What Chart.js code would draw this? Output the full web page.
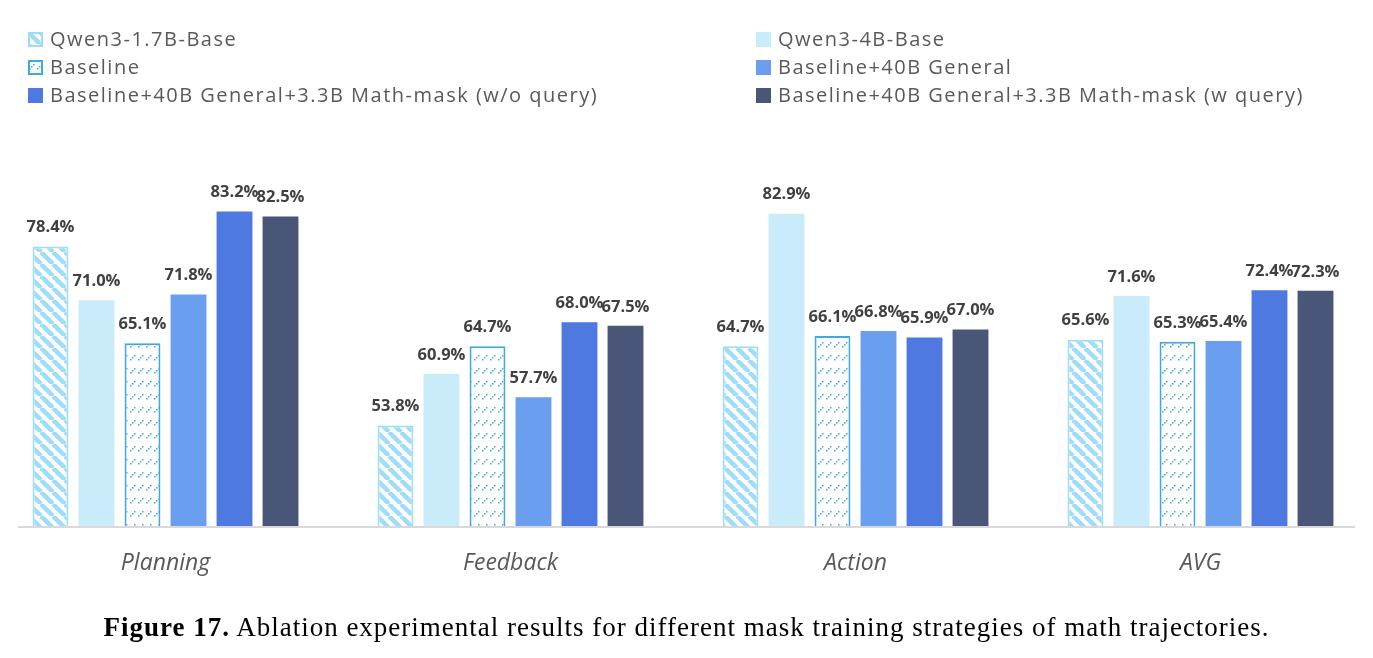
<!DOCTYPE html>
<html>
<head>
<meta charset="utf-8">
<script src="https://cdn.jsdelivr.net/npm/chart.js@4.4.1/dist/chart.umd.min.js"></script>
<style>
  html, body { margin: 0; padding: 0; background: #fff; width: 1373px; height: 658px; overflow: hidden; position: relative; }
  #wrap { position: absolute; left: -7px; top: 0; width: 1380px; height: 658px; }
  .leg { position: absolute; font-family: "Open Sans", sans-serif; font-size: 20px; letter-spacing: 1.5px; color: #595959; white-space: nowrap; line-height: 24px; }
  .leg canvas { position: absolute; left: 0; top: 5px; }
  .leg span { position: absolute; left: 22px; top: 0; }
  #caption { position: absolute; left: 0; width: 1373px; top: 612px; line-height: 30px; text-align: center; font-family: "Liberation Serif", serif; font-size: 27px; letter-spacing: 1.0px; color: #000; white-space: nowrap; }
</style>
</head>
<body>
<div id="wrap"><canvas id="c" width="1380" height="658"></canvas></div>
<div id="legend"></div>
<div id="caption"><b>Figure 17.</b> Ablation experimental results for different mask training strategies of math trajectories.</div>
<script>
const categories = ['Planning', 'Feedback', 'Action', 'AVG'];
const seriesNames = [
  'Qwen3-1.7B-Base',
  'Qwen3-4B-Base',
  'Baseline',
  'Baseline+40B General',
  'Baseline+40B General+3.3B Math-mask (w/o query)',
  'Baseline+40B General+3.3B Math-mask (w query)'
];
const qwen17 = [78.4, 53.8, 64.7, 65.6];
const qwen4 = [71.0, 60.9, 82.9, 71.6];
const baseline = [65.1, 64.7, 66.1, 65.3];
const general40 = [71.8, 57.7, 66.8, 65.4];
const maskNoQuery = [83.2, 68.0, 65.9, 72.4];
const maskQuery = [82.5, 67.5, 67.0, 72.3];
const yMin = 40, yMax = 90;

function stripePattern() {
  const s = 12;
  const c = document.createElement('canvas'); c.width = s; c.height = s;
  const g = c.getContext('2d');
  g.fillStyle = '#ffffff'; g.fillRect(0, 0, s, s);
  g.strokeStyle = '#9fdcf6'; g.lineWidth = 4.5;
  for (let k = -1; k <= 1; k++) {
    g.beginPath(); g.moveTo(k * s, 0); g.lineTo(k * s + s, s); g.stroke();
  }
  return g.createPattern(c, 'repeat');
}
function dotPattern() {
  const w = 8, h = 13;
  const c = document.createElement('canvas'); c.width = w; c.height = h;
  const g = c.getContext('2d');
  g.fillStyle = '#ffffff'; g.fillRect(0, 0, w, h);
  g.fillStyle = '#3fa9e2';
  g.fillRect(1, 8, 1.5, 1.5);
  g.fillRect(3, 6, 1.5, 1.5);
  g.fillRect(5, 4, 1.5, 1.5);
  return g.createPattern(c, 'repeat');
}

const fills = [stripePattern(), '#c9ebfa', dotPattern(), '#6a9fef', '#4e79e0', '#4a5678'];
const borders = ['#9fdcf6', '#c9ebfa', '#3fa9e2', '#6a9fef', '#4e79e0', '#4a5678'];
const borderW = [2, 0, 2, 0, 0, 0];
const values = [qwen17, qwen4, baseline, general40, maskNoQuery, maskQuery];

// Legend (HTML)
const legPos = [[28, 27], [756, 27], [28, 55], [756, 55], [28, 83], [756, 83]];
const legEl = document.getElementById('legend');
seriesNames.forEach((name, i) => {
  const d = document.createElement('div');
  d.className = 'leg';
  d.style.left = legPos[i][0] + 'px';
  d.style.top = legPos[i][1] + 'px';
  const sw = document.createElement('canvas'); sw.width = 15; sw.height = 15;
  const g = sw.getContext('2d');
  g.fillStyle = fills[i]; g.fillRect(0, 0, 15, 15);
  if (borderW[i]) { g.strokeStyle = borders[i]; g.lineWidth = 2; g.strokeRect(1, 1, 13, 13); }
  const sp = document.createElement('span'); sp.textContent = name;
  d.appendChild(sw); d.appendChild(sp);
  legEl.appendChild(d);
});

const barLabels = {
  id: 'barLabels',
  beforeDatasetsDraw(chart) {
    const ctx = chart.ctx; const y = chart.scales.y.getPixelForValue(yMin);
    ctx.save();
    ctx.strokeStyle = '#d9d9d9'; ctx.lineWidth = 2;
    ctx.beginPath(); ctx.moveTo(25, y + 1); ctx.lineTo(1362, y + 1); ctx.stroke();
    ctx.restore();
  },
  afterDatasetsDraw(chart) {
    const ctx = chart.ctx;
    ctx.save();
    ctx.font = 'bold 16.5px "Open Sans", sans-serif';
    ctx.fillStyle = '#404040';
    ctx.textAlign = 'center'; ctx.textBaseline = 'middle';
    chart.data.datasets.forEach((ds, di) => {
      chart.getDatasetMeta(di).data.forEach((bar, j) => {
        ctx.fillText(ds.data[j].toFixed(1) + '%', bar.x, bar.y - 19);
      });
    });
    ctx.font = 'italic 23px "Open Sans", sans-serif';
    ctx.fillStyle = '#595959';
    const xs = chart.scales.x;
    categories.forEach((c, i) => {
      ctx.fillText(c, xs.getPixelForValue(i), 563);
    });
    ctx.restore();
  }
};

new Chart(document.getElementById('c'), {
  type: 'bar',
  data: {
    labels: categories,
    datasets: values.map((v, i) => ({
      label: seriesNames[i],
      data: v,
      backgroundColor: fills[i],
      borderColor: borders[i],
      borderWidth: borderW[i],
      categoryPercentage: 0.8,
      barPercentage: 0.78
    }))
  },
  options: {
    responsive: false,
    devicePixelRatio: 1,
    animation: false,
    layout: { padding: { top: 162, bottom: 132, left: 0, right: 0 } },
    plugins: { legend: { display: false }, tooltip: { enabled: false } },
    scales: {
      x: { display: false },
      y: { display: false, min: yMin, max: yMax }
    }
  },
  plugins: [barLabels]
});
</script>
</body>
</html>
